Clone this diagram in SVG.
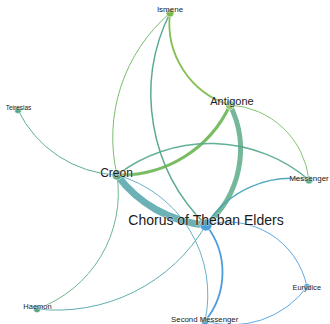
<svg xmlns="http://www.w3.org/2000/svg" width="330" height="324" viewBox="0 0 330 324">
<style>
.e{fill:none;stroke-linecap:round;stroke-opacity:0.9}
.n{stroke:#ffffff;stroke-width:0.8;stroke-opacity:0.7}
.t{font-family:"Liberation Sans",Arial,Helvetica,sans-serif;fill:#1a1a1a;text-anchor:middle;paint-order:stroke;stroke:#ffffff;stroke-width:1;stroke-opacity:0.6}
</style>
<rect width="330" height="324" fill="#ffffff"/>
<g id="connectors">
<path class="e" d="M170,13 A163.8,163.8 0 0 0 117,175" stroke="#6db65e" stroke-width="1"/>
<path class="e" d="M170,13 A182.6,182.6 0 0 0 206,225" stroke="#4a9f8c" stroke-width="1.5"/>
<path class="e" d="M170,13 A85.4,85.4 0 0 0 230,105" stroke="#78b840" stroke-width="1.8"/>
<path class="e" d="M230,105 A99.7,99.7 0 0 1 206,225" stroke="#66b08e" stroke-width="5"/>
<path class="e" d="M117,175 A120.4,120.4 0 0 0 230,105" stroke="#6ab552" stroke-width="3"/>
<path class="e" d="M230,105 A84.1,84.1 0 0 1 309,180" stroke="#78bd66" stroke-width="1"/>
<path class="e" d="M117,175 A152.7,152.7 0 0 1 309,180" stroke="#52a68c" stroke-width="1.5"/>
<path class="e" d="M18,110 A114.5,114.5 0 0 0 117,175" stroke="#4da58a" stroke-width="1"/>
<path class="e" d="M117,175 A124,124 0 0 0 206,225" stroke="#5ba9ae" stroke-width="7"/>
<path class="e" d="M117,175 A122.8,122.8 0 0 1 37,309" stroke="#5cae82" stroke-width="1"/>
<path class="e" d="M117,175 A123.9,123.9 0 0 1 205,321" stroke="#5aa8c2" stroke-width="1"/>
<path class="e" d="M309,180 A101.4,101.4 0 0 0 206,225" stroke="#40a0b5" stroke-width="1.5"/>
<path class="e" d="M37,309 A173,173 0 0 0 206,225" stroke="#4ba3a6" stroke-width="1"/>
<path class="e" d="M206,225 A76.3,76.3 0 0 1 205,321" stroke="#3c8fd6" stroke-width="1.8"/>
<path class="e" d="M206,225 A80.5,80.5 0 0 1 307,287" stroke="#4d9fe0" stroke-width="1"/>
<path class="e" d="M307,287 A93.5,93.5 0 0 1 205,321" stroke="#4d9fe0" stroke-width="1"/>
</g>
<g id="node-ismene"><circle class="n" cx="170" cy="13" r="4" fill="#79b84a"/><text class="t" x="170" y="12.3" font-size="8">Ismene</text></g>
<g id="node-antigone"><circle class="n" cx="230" cy="105" r="4.5" fill="#8cc45e"/><text class="t" x="232" y="104.5" font-size="11">Antigone</text></g>
<g id="node-teiresias"><circle class="n" cx="18" cy="110" r="3.5" fill="#4ea58c"/><text class="t" x="18.5" y="110" font-size="6.5">Teiresias</text></g>
<g id="node-creon"><circle class="n" cx="117" cy="175" r="5" fill="#5aa882"/><text class="t" x="116.5" y="176.5" font-size="12">Creon</text></g>
<g id="node-messenger"><circle class="n" cx="309" cy="180" r="4" fill="#5cae94"/><text class="t" x="309" y="181" font-size="8">Messenger</text></g>
<g id="node-chorus"><circle class="n" cx="206" cy="225" r="6" fill="#4a9fd6"/><text class="t" x="206" y="224.5" font-size="14">Chorus of Theban Elders</text></g>
<g id="node-eurydice"><circle class="n" cx="307" cy="287" r="3.5" fill="#4a9edb"/><text class="t" x="306.8" y="289.5" font-size="7.3">Eurydice</text></g>
<g id="node-haemon"><circle class="n" cx="37" cy="309" r="3.5" fill="#4aa07c"/><text class="t" x="37.5" y="309" font-size="7.5">Haemon</text></g>
<g id="node-second-messenger"><circle class="n" cx="205" cy="321" r="4" fill="#4a9bd4"/><text class="t" x="204.7" y="321.5" font-size="7.8">Second Messenger</text></g>
</svg>
